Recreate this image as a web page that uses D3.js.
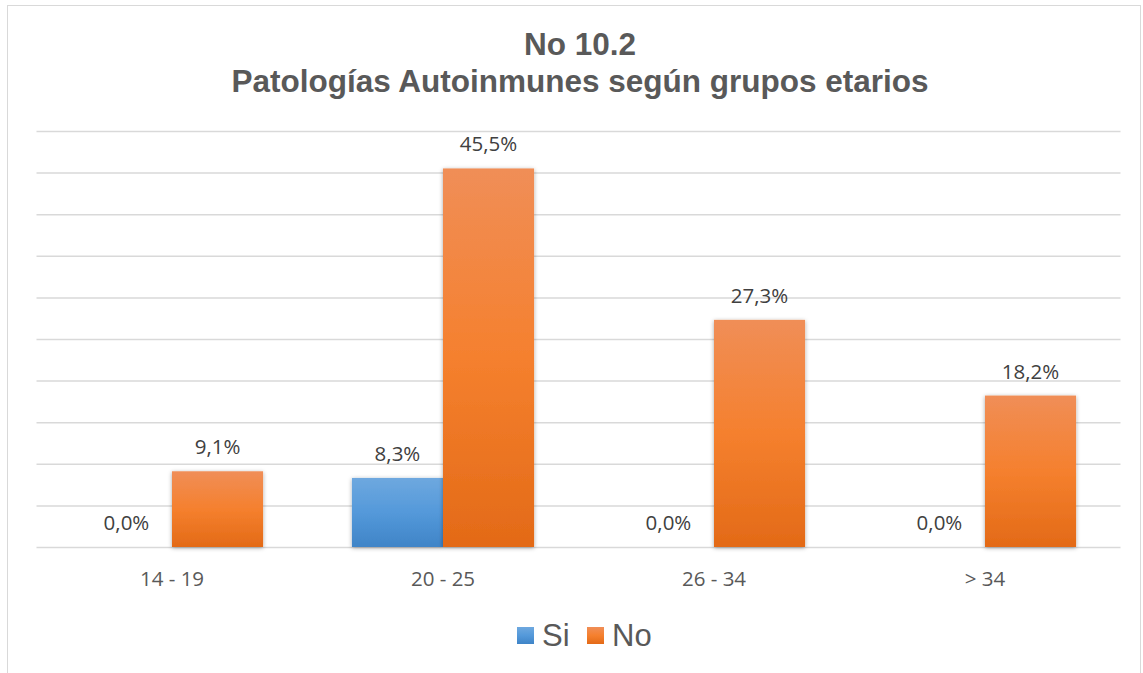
<!DOCTYPE html>
<html><head><meta charset="utf-8">
<script src="https://cdn.jsdelivr.net/npm/d3@7"></script>
<style>body{margin:0;background:#fff}svg{display:block}</style>
</head><body>
<svg id="c" width="1143" height="673"></svg>
<script>
const categories = ["14 - 19", "20 - 25", "26 - 34", "> 34"];
const seriesNames = ["Si", "No"];
const siValues = [0.0, 8.3, 0.0, 0.0];
const noValues = [9.1, 45.5, 27.3, 18.2];
const yTicks = [0, 5, 10, 15, 20, 25, 30, 35, 40, 45, 50];
const titleLines = ["No 10.2", "Patologías Autoinmunes según grupos etarios"];

const svg = d3.select("#c");
const defs = svg.append("defs");
function grad(id, stops) {
  const g = defs.append("linearGradient").attr("id", id).attr("x1", 0).attr("y1", 0).attr("x2", 0).attr("y2", 1);
  stops.forEach(s => g.append("stop").attr("offset", s[0]).attr("stop-color", s[1]));
}
grad("gSi", [[0, "#6EA8DF"], [0.5, "#5499DA"], [1, "#3F84C7"]]);
grad("gNo", [[0, "#F08E57"], [0.5, "#F5802E"], [1, "#E36A17"]]);
const f = defs.append("filter").attr("id", "sh").attr("x", "-20%").attr("y", "-10%").attr("width", "140%").attr("height", "120%");
f.append("feDropShadow").attr("dx", 0).attr("dy", 1).attr("stdDeviation", 2.2).attr("flood-color", "#000").attr("flood-opacity", 0.35);

// chart border
svg.append("rect").attr("x", 7.5).attr("y", 5.5).attr("width", 1133).attr("height", 700)
  .attr("fill", "#fff").attr("stroke", "#D9D9D9").attr("stroke-width", 1);

const x0 = d3.scaleBand().domain(categories).range([36.5, 1120.5]).paddingInner(0.328).paddingOuter(0.164);
const x1 = d3.scaleBand().domain(seriesNames).range([0, x0.bandwidth()]).padding(0);
const y = d3.scaleLinear().domain([0, 50]).range([547, 131]);

// gridlines
const yAxis = d3.axisLeft(y).tickValues(yTicks).tickSize(-(1120.5 - 36.5)).tickFormat("");
const ga = svg.append("g").attr("transform", "translate(36.5,0)").call(yAxis);
ga.select(".domain").remove();
ga.selectAll(".tick line").attr("stroke", "#D9D9D9").attr("stroke-width", 1.5);

// bars
const data = categories.map((c, i) => ({ cat: c, vals: [{ s: "Si", v: siValues[i] }, { s: "No", v: noValues[i] }] }));
const groups = svg.append("g").selectAll("g").data(data).join("g")
  .attr("transform", d => `translate(${x0(d.cat)},0)`);
groups.selectAll("rect").data(d => d.vals.filter(e => e.v > 0)).join("rect")
  .attr("x", d => x1(d.s)).attr("width", x1.bandwidth())
  .attr("y", d => y(d.v)).attr("height", d => y(0) - y(d.v))
  .attr("fill", d => d.s === "Si" ? "url(#gSi)" : "url(#gNo)")
  .attr("filter", "url(#sh)");
groups.selectAll("text").data(d => d.vals).join("text")
  .attr("x", d => x1(d.s) + x1.bandwidth() / 2)
  .attr("y", d => y(d.v) - 17)
  .attr("text-anchor", "middle")
  .attr("font-family", "'Open Sans', sans-serif").attr("font-size", 20.5).attr("fill", "#404040")
  .text(d => d.v.toFixed(1).replace(".", ",") + "%");

// category axis
const xAxis = d3.axisBottom(x0).tickSize(0).tickPadding(0);
const gx = svg.append("g").attr("transform", "translate(0,547)").call(xAxis);
gx.select(".domain").remove();
gx.selectAll(".tick text").attr("dy", 0).attr("y", 39)
  .attr("font-family", "'Open Sans', sans-serif").attr("font-size", 20.5).attr("fill", "#595959");

// title
svg.append("g").selectAll("text").data(titleLines).join("text")
  .attr("x", 580).attr("y", (d, i) => 55 + i * 37)
  .attr("text-anchor", "middle")
  .attr("font-family", "'Liberation Sans', Arial, sans-serif").attr("font-weight", "bold")
  .attr("font-size", 31.5).attr("fill", "#595959")
  .text(d => d);

// legend
const leg = svg.append("g");
const legX = [517, 587];
seriesNames.forEach((s, i) => {
  leg.append("rect").attr("x", legX[i]).attr("y", 627).attr("width", 17).attr("height", 17)
    .attr("fill", i === 0 ? "url(#gSi)" : "url(#gNo)");
  leg.append("text").attr("x", legX[i] + 25).attr("y", 645.5)
    .attr("font-family", "'Liberation Sans', Arial, sans-serif").attr("font-size", 31).attr("fill", "#595959")
    .text(s);
});
</script>
</body></html>
